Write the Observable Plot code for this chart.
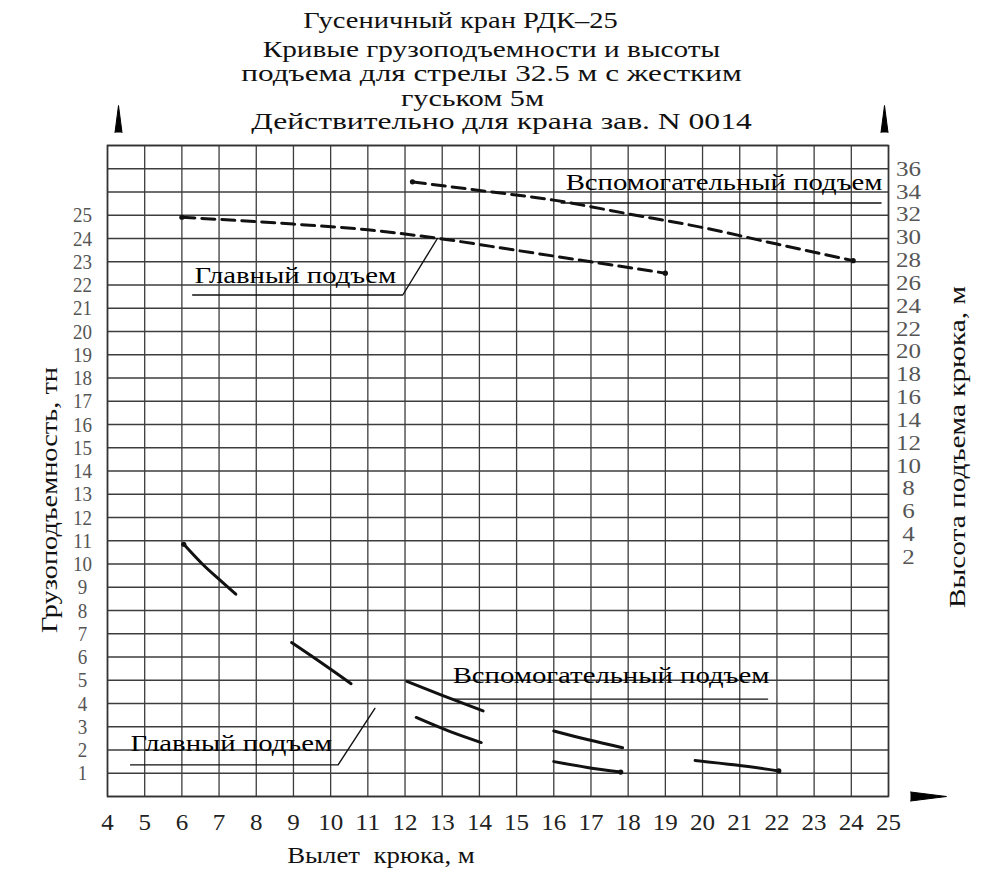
<!DOCTYPE html>
<html><head><meta charset="utf-8">
<script src="https://cdn.jsdelivr.net/npm/d3@7"></script>
<script src="https://cdn.jsdelivr.net/npm/@observablehq/plot@0.6"></script>
<style>
html,body{margin:0;padding:0;background:#fff}
svg text{white-space:pre}
</style>
</head><body><div id="chart"></div>
<script>
// ---- text ----
const titleLines = [
  "Гусеничный кран РДК–25",
  "Кривые грузоподъемности и высоты",
  "подъема для стрелы 32.5 м с жестким",
  "гуськом 5м",
  "Действительно для крана зав. N 0014"
];
const xTitle = "Вылет  крюка, м";
const yLeftTitle = "Грузоподъемность, тн";
const yRightTitle = "Высота подъема крюка, м";
const curveLabels = ["Вспомогательный подъем", "Главный подъем", "Вспомогательный подъем", "Главный подъем"];

// ---- ticks / grid ----
const xTicks = d3.range(4, 26);          // reach, m
const leftTicks = d3.range(1, 26);       // load, t
const rightTicks = d3.range(2, 37, 2);   // hook height, m
const gridX = d3.range(4, 26);
const gridY = d3.range(0, 29);

// ---- load capacity segments: [reach m, load t] ----
const loadA = [[6.05, 10.85], [6.55, 10.0], [7.1, 9.2], [7.45, 8.7]];
const loadB = [[8.95, 6.62], [9.75, 5.75], [10.55, 4.85]];
const loadC = [[12.05, 4.95], [13.0, 4.35], [14.1, 3.68]];
const loadD = [[12.3, 3.4], [13.2, 2.8], [14.05, 2.32]];
const loadE = [[16.0, 2.82], [16.9, 2.45], [17.85, 2.1]];
const loadF = [[16.0, 1.5], [16.9, 1.25], [17.8, 1.05]];
const loadG = [[19.8, 1.55], [20.9, 1.35], [22.05, 1.1]];

// ---- hook height curves: [reach m, height m] ----
const heightMain = [[6, 31.8], [9, 31.2], [11, 30.7], [13, 29.9], [15, 28.9], [17, 27.9], [19, 26.9]];
const heightAux = [[12.2, 34.9], [14, 34.15], [16, 33.3], [18, 32.1], [20, 30.9], [22, 29.45], [24.05, 28.0]];

// ---- label anchors and leader lines: [reach m, load t] ----
const labelAnchors = [[16.32, 26.43], [6.34, 22.4], [13.28, 5.21], [4.62, 2.3]];
const leaderUpperAux = [[16.2, 25.53], [24.8, 25.53]];
const leaderUpperMain = [[6.29, 21.57], [11.94, 21.57], [12.87, 24.0]];
const leaderLowerAux = [[13.3, 4.19], [21.75, 4.19]];
const leaderLowerMain = [[4.62, 1.36], [10.2, 1.36], [11.19, 3.79]];

// right axis (height, m) expressed on the left scale (t)
const heightBase = 9.3, tonsPerMeter = 0.491;
const h2t = h => heightBase + tonsPerMeter * h;

const ff = "Liberation Serif";
const ink = "#111";
const gridColor = "#3d3d3d";

const loadSegs = [loadA, loadB, loadC, loadD, loadE, loadF, loadG];
// end blobs taken from the curves themselves
const loadDots = [loadA[0], loadF[loadF.length - 1], loadG[loadG.length - 1]];
const heightDots = [heightMain[0], heightMain[heightMain.length - 1], heightAux[0], heightAux[heightAux.length - 1]];

const titleCenters = [[460, 20], [491, 49], [491, 73], [472, 98], [501, 121]];

const T = (desc, opts) => ({fontFamily: ff, textAnchor: "middle", lineAnchor: "middle", ariaDescription: desc, className: desc, ...opts});

const marks = [
  Plot.ruleX(gridX, {x: d => d, stroke: gridColor, strokeWidth: 1.3}),
  Plot.ruleY(gridY, {y: d => d, stroke: gridColor, strokeWidth: 1.3}),
  Plot.frame({stroke: "#333", strokeWidth: 1.6}),
  // hook height (dashed)
  Plot.line(heightMain, {x: d => d[0], y: d => h2t(d[1]), stroke: ink, strokeWidth: 3, strokeDasharray: "13,7", curve: "monotone-x"}),
  Plot.line(heightAux, {x: d => d[0], y: d => h2t(d[1]), stroke: ink, strokeWidth: 3, strokeDasharray: "13,7", curve: "monotone-x"}),
  Plot.dot(heightDots, {x: d => d[0], y: d => h2t(d[1]), r: 2.6, fill: ink}),
  // load capacity (solid)
  ...loadSegs.map(seg => Plot.line(seg, {x: d => d[0], y: d => d[1], stroke: ink, strokeWidth: 3, curve: "monotone-x"})),
  Plot.dot(loadDots, {x: d => d[0], y: d => d[1], r: 2.6, fill: ink}),
  // leader lines
  ...[leaderUpperAux, leaderUpperMain, leaderLowerAux, leaderLowerMain].map(L =>
    Plot.line(L, {x: d => d[0], y: d => d[1], stroke: ink, strokeWidth: 1.4})),
  // curve labels
  Plot.text(labelAnchors, T("curve-label", {x: d => d[0], y: d => d[1], text: (d, i) => curveLabels[i], textAnchor: "start", fontSize: 24, fill: "#000"})),
  // ticks
  Plot.text(xTicks, T("tick-bottom", {x: d => d, text: d => String(d), frameAnchor: "bottom", dy: 26, fontSize: 24, fill: "#222"})),
  Plot.text(leftTicks, T("tick-left", {y: d => d, text: d => String(d), frameAnchor: "left", dx: -25, fontSize: 22, fill: "#555"})),
  Plot.text(rightTicks, T("tick-right", {y: d => h2t(d), text: d => String(d), frameAnchor: "right", dx: 20, fontSize: 20, fill: "#555"})),
  // axis titles
  Plot.text([xTitle], T("title-bottom", {text: d => d, frameAnchor: "bottom", dx: -117, dy: 59, fontSize: 24, fill: "#111"})),
  Plot.text([yLeftTitle], T("title-left", {text: d => d, frameAnchor: "left", dx: -58, dy: 29, rotate: -90, fontSize: 24, fill: "#111"})),
  Plot.text([yRightTitle], T("title-right", {text: d => d, frameAnchor: "right", dx: 69, dy: -24, rotate: -90, fontSize: 24, fill: "#111"})),
  // chart title lines
  ...titleLines.map((line, i) => Plot.text([line], T("title", {text: d => d, frameAnchor: "top-left", dx: titleCenters[i][0] - 107, dy: titleCenters[i][1] - 145, fontSize: 24, fill: "#111"}))),
  // axis arrows
  Plot.vector([0], {frameAnchor: "top-left", dx: 11, dy: -13, length: 27, rotate: 0, shape: "spike", r: 3.5, anchor: "start", fill: "#000", stroke: "#000", strokeWidth: 1}),
  Plot.vector([0], {frameAnchor: "top-right", dx: -4, dy: -13, length: 27, rotate: 0, shape: "spike", r: 3.5, anchor: "start", fill: "#000", stroke: "#000", strokeWidth: 1}),
  Plot.vector([0], {frameAnchor: "bottom-right", dx: 22, dy: 0, length: 36, rotate: 90, shape: "spike", r: 4.5, anchor: "start", fill: "#000", stroke: "#000", strokeWidth: 1})
];

const chart = Plot.plot({
  width: 987,
  height: 878,
  marginLeft: 107,
  marginRight: 99,
  marginTop: 145,
  marginBottom: 82,
  x: {domain: [4, 25], axis: null},
  y: {domain: [0, 28], axis: null},
  style: {background: "#fff", fontFamily: ff},
  marks
});

function typewriter(svg, label, charWidth) {
  const groups = svg.querySelectorAll(`g[aria-description="${label}"], g.${label}, .${label}`);
  groups.forEach(g => {
    const texts = g.tagName.toLowerCase() === "text" ? [g] : g.querySelectorAll("text");
    texts.forEach(t => {
      const n = t.textContent.length;
      t.setAttribute("textLength", (n * charWidth).toFixed(1));
      t.setAttribute("lengthAdjust", "spacingAndGlyphs");
    });
  });
}
typewriter(chart, "title", 14.3);
typewriter(chart, "curve-label", 14.4);
typewriter(chart, "tick-left", 9.5);
typewriter(chart, "tick-right", 12.5);
typewriter(chart, "tick-bottom", 12.5);
typewriter(chart, "title-left", 13.3);
typewriter(chart, "title-right", 14);
typewriter(chart, "title-bottom", 12.5);

document.getElementById("chart").appendChild(chart);
</script>
</body></html>
